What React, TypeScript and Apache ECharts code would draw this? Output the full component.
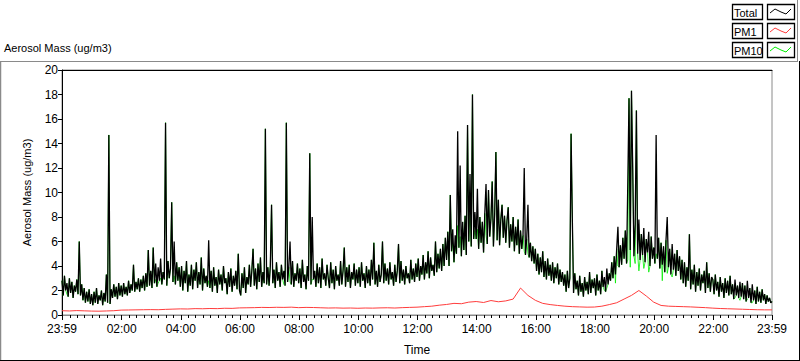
import React, { useEffect, useRef } from "react";
import * as echarts from "echarts";

// Total aerosol mass, one value every 2.5 minutes starting at 23:59 (one row = one hour)
const totalMass: number[] = [
  2.8, 1.6, 3.2, 2.0, 2.6, 1.5, 3.0, 1.8, 2.7, 1.4, 2.4, 1.9, 2.9, 1.7, 6.0, 1.6, 2.5, 1.2, 2.2, 1.0, 1.9, 1.1, 2.1, 0.9,
  1.7, 0.8, 1.9, 1.0, 2.2, 0.9, 1.6, 1.2, 2.0, 0.8, 1.8, 1.1, 3.3, 1.0, 14.7, 0.9, 2.1, 1.4, 2.5, 1.5, 2.3, 1.3, 2.6, 1.6,
  2.4, 1.5, 2.6, 1.7, 2.3, 1.6, 2.8, 1.8, 2.5, 2.0, 4.1, 1.9, 2.7, 2.1, 3.0, 1.9, 2.9, 2.2, 3.2, 2.0, 3.4, 2.3, 5.3, 2.4,
  3.6, 2.2, 5.5, 2.6, 4.2, 2.3, 3.9, 2.8, 4.6, 2.5, 3.5, 2.9, 15.7, 2.4, 4.4, 3.0, 3.8, 9.2, 2.7, 6.0, 2.5, 4.3, 2.8, 3.9,
  2.3, 4.0, 2.0, 3.6, 2.6, 4.4, 1.9, 3.3, 2.4, 4.1, 2.1, 3.7, 2.8, 4.3, 2.2, 3.5, 2.5, 4.7, 2.0, 3.8, 2.6, 3.2, 2.3, 6.1,
  2.2, 3.6, 1.9, 3.9, 2.4, 3.1, 1.8, 3.7, 2.5, 3.3, 2.0, 4.0, 2.6, 3.0, 1.7, 3.5, 2.3, 3.8, 1.9, 3.2, 2.4, 3.6, 2.1, 5.0,
  2.0, 1.6, 3.4, 2.2, 3.9, 1.8, 3.1, 2.5, 4.1, 2.3, 3.6, 5.4, 2.4, 3.8, 2.1, 4.2, 2.7, 4.7, 2.3, 3.5, 2.6, 15.2, 2.5, 3.9,
  2.4, 4.0, 9.0, 2.6, 3.7, 2.2, 4.3, 2.8, 3.5, 2.3, 4.1, 2.9, 3.6, 2.4, 15.7, 2.7, 3.9, 6.0, 2.5, 4.4, 2.3, 3.4, 2.8, 4.2,
  2.6, 3.8, 2.2, 4.5, 2.7, 3.3, 2.1, 4.0, 2.8, 13.2, 2.5, 8.0, 2.9, 3.6, 2.3, 4.2, 2.6, 3.9, 2.2, 4.6, 2.9, 3.4, 2.4, 4.1,
  3.0, 2.2, 4.3, 2.6, 3.7, 2.1, 4.0, 2.8, 3.3, 2.4, 4.4, 2.5, 3.6, 5.5, 2.3, 3.9, 2.7, 4.1, 2.2, 3.5, 2.9, 4.2, 2.4, 3.7,
  2.6, 3.9, 2.3, 4.3, 2.8, 3.4, 2.2, 4.0, 2.6, 3.7, 2.4, 4.5, 2.9, 5.9, 2.5, 3.6, 2.3, 4.1, 2.7, 3.3, 6.0, 2.6, 4.2, 2.8,
  3.8, 2.5, 4.3, 2.9, 3.5, 2.4, 4.1, 2.7, 3.6, 5.8, 2.6, 4.4, 2.8, 3.7, 2.5, 4.0, 3.0, 3.4, 2.6, 4.5, 2.9, 3.8, 2.7, 4.2,
  3.1, 4.6, 2.8, 4.0, 3.3, 4.9, 2.9, 4.3, 3.4, 5.2, 3.0, 4.7, 3.6, 4.1, 3.2, 6.0, 3.5, 5.0, 3.8, 5.4, 3.6, 5.8, 4.0, 6.3,
  4.5, 6.8, 4.0, 9.8, 5.2, 7.0, 4.3, 6.5, 5.0, 15.0, 5.5, 12.2, 4.8, 7.6, 5.3, 8.1, 4.9, 15.5, 6.0, 11.5, 5.6, 18.0, 6.2, 8.4,
  6.2, 10.3, 5.4, 8.0, 5.9, 7.6, 5.1, 8.3, 10.7, 5.8, 10.2, 6.4, 7.9, 10.9, 5.6, 8.2, 13.3, 6.1, 9.4, 5.7, 7.8, 9.0, 6.3, 8.1,
  5.9, 7.7, 8.8, 5.5, 7.4, 6.0, 8.0, 5.2, 7.2, 5.7, 7.8, 5.0, 6.9, 5.4, 6.5, 12.0, 4.9, 6.2, 9.0, 4.7, 5.9, 4.4, 5.6, 4.2,
  5.4, 3.6, 5.0, 3.3, 4.7, 3.5, 5.2, 3.1, 4.4, 2.9, 4.6, 3.2, 4.1, 2.8, 4.3, 2.6, 3.9, 3.0, 4.2, 2.5, 3.7, 2.7, 3.5, 2.4,
  3.3, 1.9, 3.6, 2.2, 3.0, 14.8, 7.9, 1.8, 3.4, 2.1, 2.8, 1.6, 3.2, 1.9, 2.6, 1.5, 3.1, 2.0, 2.7, 1.7, 3.5, 1.8, 2.9, 2.2,
  3.0, 1.6, 3.3, 2.0, 2.8, 1.7, 3.6, 2.3, 3.1, 1.9, 3.8, 2.5, 3.4, 2.8, 4.3, 3.0, 4.8, 3.3, 5.4, 7.2, 3.9, 5.7, 4.1, 6.3,
  4.6, 6.9, 4.2, 10.7, 17.7, 5.3, 18.3, 12.0, 4.8, 7.4, 16.7, 5.0, 7.8, 4.5, 6.6, 4.9, 7.1, 4.3, 6.2, 5.1, 6.8, 4.0, 6.4, 4.6,
  5.5, 4.2, 14.7, 4.6, 6.3, 3.8, 5.9, 4.1, 5.6, 3.5, 6.1, 8.0, 3.9, 5.4, 3.3, 5.8, 3.7, 5.0, 3.2, 5.3, 3.6, 4.8, 2.9, 4.5,
  2.6, 4.3, 2.3, 3.9, 2.8, 6.6, 2.1, 3.7, 2.5, 4.1, 1.9, 3.5, 2.4, 3.8, 2.0, 3.3, 2.6, 3.6, 1.8, 4.3, 2.2, 3.4, 1.9, 3.1,
  2.9, 1.7, 3.3, 2.0, 2.7, 1.5, 3.1, 1.9, 2.6, 1.4, 3.0, 1.8, 2.8, 1.6, 3.2, 1.7, 2.5, 1.3, 2.9, 1.6, 2.4, 1.4, 2.7, 1.5,
  2.6, 1.3, 2.4, 1.1, 2.8, 1.4, 2.2, 1.0, 2.5, 1.2, 2.0, 0.9, 2.3, 1.1, 1.9, 1.0, 2.1, 1.2, 1.7, 0.9, 1.6, 1.1, 1.4, 1.0,
  1.1,
];

// PM10 follows the total except at these samples: [sample index, value]
const pm10Differences: [number, number][] = [
  [4, 1.7], [76, 2.9], [78, 2.6], [80, 3.0], [91, 3.2], [119, 2.8],
  [180, 2.5], [185, 2.7], [203, 2.9],
  [317, 5.8], [319, 5.5], [321, 7.3], [323, 6.4], [331, 8.6], [335, 6.9],
  [337, 7.0], [344, 6.5], [375, 5.2], [378, 5.0],
  [440, 2.0], [442, 2.2], [449, 2.6], [451, 4.0],
  [459, 4.5], [461, 3.9], [465, 4.2], [468, 3.6], [472, 3.8], [476, 3.5],
  [482, 5.0], [487, 2.8], [491, 3.4], [495, 3.1],
  [546, 1.4], [550, 1.2], [556, 1.3], [560, 1.0],
];

// PM1, one value every 15 minutes starting at 23:59
const pm1Mass: number[] = [
  0.35, 0.33, 0.36, 0.34,
  0.32, 0.31, 0.33, 0.35,
  0.40, 0.41, 0.42, 0.43,
  0.44, 0.43, 0.46, 0.48,
  0.50, 0.49, 0.52, 0.51,
  0.53, 0.52, 0.55, 0.54,
  0.58, 0.59, 0.60, 0.62,
  0.61, 0.63, 0.62, 0.64,
  0.60, 0.62, 0.61, 0.59,
  0.57, 0.58, 0.56, 0.57,
  0.55, 0.57, 0.56, 0.58,
  0.59, 0.57, 0.60, 0.62,
  0.64, 0.68, 0.72, 0.80,
  0.86, 0.95, 0.92, 1.05,
  1.10, 1.02, 1.18, 1.08,
  1.15, 1.30, 2.20, 1.60,
  1.20, 0.95, 0.85, 0.78,
  0.72, 0.68, 0.66, 0.64,
  0.65, 0.72, 0.85, 1.00,
  1.30, 1.60, 2.00, 1.55,
  1.05, 0.78, 0.72, 0.70,
  0.68, 0.66, 0.63, 0.60,
  0.56, 0.53, 0.51, 0.49,
  0.47, 0.45, 0.43, 0.42,
  0.42,
];

const totalStepMinutes = 2.5;
const pm1StepMinutes = 15;

// x = minutes after 23:59
const xMajorTicks: number[] = [0, 121, 241, 361, 481, 601, 721, 841, 961, 1081, 1201, 1321, 1440];
const xMajorLabels: string[] = [
  "23:59", "02:00", "04:00", "06:00", "08:00", "10:00", "12:00",
  "14:00", "16:00", "18:00", "20:00", "22:00", "23:59",
];
const xMinorTicks: number[] = [
  16, 31, 46, 61, 76, 91, 106, 136, 151, 166, 181, 196, 211, 226,
  256, 271, 286, 301, 316, 331, 346, 376, 391, 406, 421, 436, 451, 466,
  496, 511, 526, 541, 556, 571, 586, 616, 631, 646, 661, 676, 691, 706,
  736, 751, 766, 781, 796, 811, 826, 856, 871, 886, 901, 916, 931, 946,
  976, 991, 1006, 1021, 1036, 1051, 1066, 1096, 1111, 1126, 1141, 1156, 1171, 1186,
  1216, 1231, 1246, 1261, 1276, 1291, 1306, 1336, 1351, 1366, 1381, 1396, 1411, 1426,
];

const FONT = "'Liberation Sans', Arial, sans-serif";

export default function App() {
  const ref = useRef<HTMLDivElement>(null);

  useEffect(() => {
    if (!ref.current) return;
    const chart = echarts.init(ref.current, undefined, { renderer: "svg" });

    const totalData = totalMass.map((v, i) => [i * totalStepMinutes, v]);
    const pm10Map = new Map<number, number>(pm10Differences);
    const pm10Data = totalMass.map((v, i) => [
      i * totalStepMinutes,
      pm10Map.has(i) ? (pm10Map.get(i) as number) : v,
    ]);
    const pm1Data = pm1Mass.map((v, i) => [i * pm1StepMinutes, v]);

    const legendItems = [
      { name: "Total", color: "#000000" },
      { name: "PM1", color: "#ff3c3c" },
      { name: "PM10", color: "#00ee00" },
    ];
    const legendGraphics: any[] = [];
    legendItems.forEach((it, k) => {
      const y = 4 + k * 19;
      legendGraphics.push({
        type: "rect",
        shape: { x: 732.5, y: y + 0.5, width: 30, height: 15 },
        style: { fill: "#fff", stroke: "#000", lineWidth: 1.3 },
      });
      legendGraphics.push({
        type: "text",
        x: 734,
        y: y + 8.5,
        style: {
          text: it.name,
          fill: "#000",
          font: `11px ${FONT}`,
          textVerticalAlign: "middle",
          textAlign: "left",
        },
      });
      legendGraphics.push({
        type: "rect",
        shape: { x: 767.5, y: y + 0.5, width: 27, height: 15 },
        style: { fill: "#fff", stroke: "#000", lineWidth: 1.3 },
      });
      legendGraphics.push({
        type: "polyline",
        shape: {
          points: [
            [770, y + 9],
            [775, y + 5],
            [781, y + 8],
            [786, y + 10],
            [791, y + 5],
          ],
        },
        style: { stroke: it.color, lineWidth: 1, fill: "none" },
      });
    });

    chart.setOption({
      animation: false,
      backgroundColor: "#ffffff",
      textStyle: { fontFamily: FONT },
      grid: {
        left: 62,
        top: 70,
        width: 710,
        height: 252,
        show: true,
        borderColor: "#8a8a8a",
        borderWidth: 1,
        backgroundColor: "#ffffff",
      },
      xAxis: [
        {
          type: "value",
          min: 0,
          max: 1440,
          position: "bottom",
          name: "Time",
          nameLocation: "middle",
          nameGap: 29,
          nameTextStyle: { color: "#000", fontSize: 12, fontFamily: FONT },
          axisLine: { show: true, lineStyle: { color: "#8a8a8a", width: 1 } },
          axisTick: {
            show: true,
            customValues: xMajorTicks,
            length: 5,
            lineStyle: { color: "#000" },
          },
          axisLabel: {
            show: true,
            customValues: xMajorTicks,
            formatter: (v: number) => {
              const idx = xMajorTicks.indexOf(Math.round(v));
              return idx >= 0 ? xMajorLabels[idx] : "";
            },
            color: "#000",
            fontSize: 12,
            fontFamily: FONT,
            margin: 8,
            hideOverlap: false,
          },
          splitLine: { show: false },
        },
        {
          type: "value",
          min: 0,
          max: 1440,
          position: "bottom",
          axisLine: { show: false },
          axisTick: {
            show: true,
            customValues: xMinorTicks,
            length: 3,
            lineStyle: { color: "#000" },
          },
          axisLabel: { show: false },
          splitLine: { show: false },
        },
        {
          type: "value",
          min: 0,
          max: 1440,
          position: "top",
          axisLine: { show: true, lineStyle: { color: "#000", width: 1 } },
          axisTick: { show: false },
          axisLabel: { show: false },
          splitLine: { show: false },
        },
      ],
      yAxis: {
        type: "value",
        min: 0,
        max: 20,
        interval: 2,
        name: "Aerosol Mass (ug/m3)",
        nameLocation: "middle",
        nameRotate: 90,
        nameGap: 30,
        nameTextStyle: { color: "#000", fontSize: 11, fontFamily: FONT },
        axisLine: { show: true, lineStyle: { color: "#000", width: 1 } },
        axisTick: { show: true, length: 4, lineStyle: { color: "#000" } },
        axisLabel: { color: "#000", fontSize: 12, fontFamily: FONT, margin: 4 },
        splitLine: { show: false },
      },
      series: [
        {
          name: "PM10",
          type: "line",
          data: pm10Data,
          showSymbol: false,
          symbol: "none",
          lineStyle: { color: "#00ee00", width: 0.8 },
          itemStyle: { color: "#00ee00" },
          z: 2,
        },
        {
          name: "Total",
          type: "line",
          data: totalData,
          showSymbol: false,
          symbol: "none",
          lineStyle: { color: "#000000", width: 1.3 },
          itemStyle: { color: "#000000" },
          z: 3,
        },
        {
          name: "PM1",
          type: "line",
          data: pm1Data,
          showSymbol: false,
          symbol: "none",
          lineStyle: { color: "#ff3c3c", width: 1 },
          itemStyle: { color: "#ff3c3c" },
          z: 4,
        },
      ],
      graphic: [
        {
          type: "text",
          x: 4,
          y: 48,
          style: {
            text: "Aerosol Mass (ug/m3)",
            fill: "#000",
            font: `11px ${FONT}`,
            textVerticalAlign: "middle",
          },
        },
        { type: "line", shape: { x1: 0, y1: 61.5, x2: 798, y2: 61.5 }, style: { stroke: "#8a8a8a", lineWidth: 1 } },
        { type: "line", shape: { x1: 0.5, y1: 61, x2: 0.5, y2: 361 }, style: { stroke: "#8a8a8a", lineWidth: 1.5 } },
        { type: "line", shape: { x1: 797.5, y1: 0, x2: 797.5, y2: 62 }, style: { stroke: "#8a8a8a", lineWidth: 1 } },
        { type: "line", shape: { x1: 799.5, y1: 61, x2: 799.5, y2: 361 }, style: { stroke: "#000", lineWidth: 1 } },
        { type: "line", shape: { x1: 0, y1: 360.5, x2: 800, y2: 360.5 }, style: { stroke: "#000", lineWidth: 1 } },
        ...legendGraphics,
      ],
    });

    return () => chart.dispose();
  }, []);

  return (
    <div
      ref={ref}
      style={{ position: "absolute", left: 0, top: 0, width: 800, height: 361 }}
    />
  );
}
